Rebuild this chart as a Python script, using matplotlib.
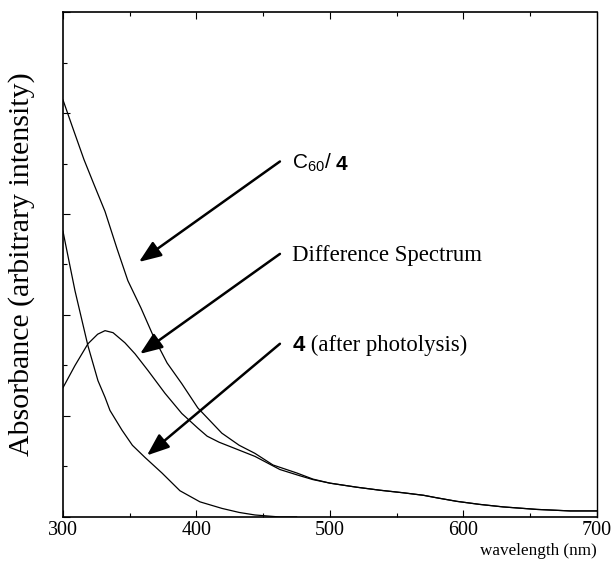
#!/usr/bin/env python3
import matplotlib
matplotlib.use("Agg")
import matplotlib.pyplot as plt
from matplotlib.ticker import MultipleLocator

# wavelength (nm) / absorbance (arbitrary)
c60_nm  = [300, 307, 315.7, 323, 331.5, 340.4, 348.6, 358.4, 368.2, 378, 389, 401, 419, 432,
           443.8, 457.3, 475.3, 487.3, 500, 520, 537.5, 554.7, 570, 580, 595, 612, 629.6, 655, 680, 700]
c60_abs = [8.26, 7.73, 7.08, 6.60, 6.05, 5.32, 4.68, 4.14, 3.55, 3.05, 2.64, 2.16, 1.66, 1.42,
           1.26, 1.03, 0.87, 0.75, 0.67, 0.59, 0.53, 0.48, 0.43, 0.38, 0.31, 0.25, 0.20, 0.15, 0.12, 0.12]

diff_nm  = [300, 309, 318.7, 326, 331.5, 337.5, 346.4, 354, 363.7, 376.4, 389, 401, 408,
            417, 426.6, 443.8, 462.5, 477, 487.3, 500, 520, 537.5, 554.7, 570, 580, 595, 612,
            629.6, 655, 680, 700]
diff_abs = [2.56, 3.0, 3.43, 3.62, 3.69, 3.65, 3.45, 3.23, 2.90, 2.45, 2.05, 1.76, 1.60,
            1.48, 1.38, 1.20, 0.94, 0.82, 0.74, 0.67, 0.59, 0.53, 0.48, 0.43, 0.38, 0.31, 0.25,
            0.20, 0.15, 0.12, 0.12]

photo_nm  = [300, 301.5, 309, 318.7, 326.2, 331.5, 335.2, 344.2, 352, 361.4, 374.2, 387.6,
             402.6, 419.1, 432, 443.8, 462.5, 475]
photo_abs = [5.66, 5.46, 4.48, 3.39, 2.70, 2.37, 2.11, 1.72, 1.42, 1.18, 0.87, 0.52,
             0.30, 0.17, 0.09, 0.04, 0.0, 0.0]

# label anchors: arrow tails, arrow tips, text baseline
arrow_tails = [(462.5, 7.04), (462.5, 5.21), (462.5, 3.43)]
arrow_tips  = [(356.9, 5.05), (357.7, 3.23), (362.9, 1.22)]
label_x     = 471.9
label_y     = [6.89, 5.07, 3.29]

SERIF = "Liberation Serif"
SANS  = "Liberation Sans"
plt.rcParams["font.family"] = SERIF
plt.rcParams["mathtext.fontset"] = "custom"
plt.rcParams["mathtext.rm"] = SANS
plt.rcParams["mathtext.it"] = SANS + ":italic"
plt.rcParams["mathtext.bf"] = SANS + ":bold"

fig = plt.figure(figsize=(6.15, 5.69), dpi=100)
ax = fig.add_axes([0.1024, 0.0914, 0.8683, 0.8875])

for xs, ys in ((c60_nm, c60_abs), (diff_nm, diff_abs), (photo_nm, photo_abs)):
    ax.plot(xs, ys, color="black", lw=0.9)

ax.set_xlim(300, 700)
ax.set_ylim(0, 10)
ax.xaxis.set_major_locator(MultipleLocator(100))
ax.xaxis.set_minor_locator(MultipleLocator(50))
ax.yaxis.set_major_locator(MultipleLocator(2))
ax.yaxis.set_minor_locator(MultipleLocator(1))
ax.tick_params(which="both", direction="in", top=True, right=False, width=0.8)
ax.tick_params(which="major", length=5)
ax.tick_params(which="minor", length=3)
ax.tick_params(axis="x", labelsize=14.4, pad=3)
ax.tick_params(axis="y", labelleft=False)
for s in ax.spines.values():
    s.set_linewidth(1.2)
ax.spines["right"].set_linewidth(1.0)

ax.set_ylabel("Absorbance (arbitrary intensity)", fontsize=21.5, labelpad=17)
ax.set_xlabel("wavelength (nm)", fontsize=12.3, loc="right", labelpad=2)

# arrows
for (tx, ty), (hx, hy) in zip(arrow_tails, arrow_tips):
    ax.annotate("", xy=(hx, hy), xytext=(tx, ty),
                arrowprops=dict(arrowstyle="-|>,head_length=0.9,head_width=0.35",
                                lw=1.8, color="black", mutation_scale=15,
                                shrinkA=0, shrinkB=0))

# labels
t1 = ax.text(label_x, label_y[0], "C$_{60}$/", fontsize=15, family=SANS, va="baseline")
ax.annotate("4", xy=(1, 0), xycoords=t1, xytext=(2.5, 0), textcoords="offset points",
            va="bottom", fontsize=15, family=SANS, fontweight="bold")
ax.text(label_x, label_y[1], "Difference Spectrum", fontsize=16.4, va="baseline")
t3 = ax.text(label_x, label_y[2], "4", fontsize=16, family=SANS, fontweight="bold",
             va="baseline")
ax.annotate(" (after photolysis)", xy=(1, 0), xycoords=t3, va="bottom",
            fontsize=16.4)

fig.savefig("out.png", dpi=100)
plt.close(fig)
